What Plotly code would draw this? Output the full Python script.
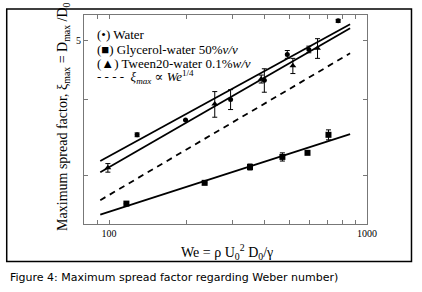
import plotly.graph_objects as go
import math

# ---- data ----
water_we = [128.5, 198, 296, 400, 491, 595, 773]
water_xi = [3.50, 3.70, 4.00, 4.30, 4.74, 4.83, 5.38]
water_err = [0.025, 0.0, 0.15, 0.19, 0.07, 0.06, 0.03]

tween_we = [99, 257, 389, 516, 643]
tween_xi = [3.09, 3.93, 4.32, 4.54, 4.85]
tween_err = [0.05, 0.19, 0.065, 0.13, 0.18]

gly_we = [116.8, 234.8, 352, 470, 588, 709]
gly_xi = [2.70, 2.92, 3.10, 3.22, 3.27, 3.50]
gly_err = [0.0, 0.0, 0.035, 0.05, 0.0, 0.066]

fit_we = [92.5, 860]
water_fit = [3.17, 5.31]
tween_fit = [3.04, 5.23]
power_fit = [2.735, 4.76]
gly_fit = [2.59, 3.51]

x_tickvals = [80, 90, 100, 200, 300, 400, 500, 600, 700, 800, 900, 1000]
x_ticktext = ["", "", "100", "", "", "", "", "", "", "", "", "1000"]
y_tickvals = [3, 4, 5]
y_ticktext = ["", "", "5"]

legend_labels = [
    "(•) Water",
    "(■) Glycerol-water 50%<i>v/v</i>",
    "(▲) Tween20-water 0.1%<i>w/v</i>",
    "- - - -  <i>ξ<sub>max</sub></i> ∝ <i>We</i><sup>1/4</sup>",
]

SERIF = "Liberation Serif, DejaVu Serif, serif"

fig = go.Figure()

line_style = dict(color="black", width=1.8)
fig.add_trace(go.Scatter(x=fit_we, y=water_fit, mode="lines", line=line_style))
fig.add_trace(go.Scatter(x=fit_we, y=tween_fit, mode="lines", line=line_style))
fig.add_trace(go.Scatter(x=fit_we, y=power_fit, mode="lines",
                         line=dict(color="black", width=1.8, dash="6px,5px")))
fig.add_trace(go.Scatter(x=fit_we, y=gly_fit, mode="lines", line=line_style))

err_style = dict(type="data", thickness=1, width=2.5, color="black")
fig.add_trace(go.Scatter(x=water_we, y=water_xi, mode="markers",
                         marker=dict(symbol="circle", size=5, color="black"),
                         error_y=dict(array=water_err, **err_style)))
fig.add_trace(go.Scatter(x=tween_we, y=tween_xi, mode="markers",
                         marker=dict(symbol="triangle-up", size=6, color="black"),
                         error_y=dict(array=tween_err, **err_style)))
fig.add_trace(go.Scatter(x=gly_we, y=gly_xi, mode="markers",
                         marker=dict(symbol="square", size=6, color="black"),
                         error_y=dict(array=gly_err, **err_style)))

axis_common = dict(
    type="log", showgrid=False, zeroline=False, automargin=False,
    showline=True, linecolor="#777", linewidth=1, mirror="ticks",
    ticks="inside", ticklen=4, tickcolor="#777",
    tickfont=dict(family=SERIF, size=10, color="black"),
)
fig.update_xaxes(range=[math.log10(80), 3], tickvals=x_tickvals, ticktext=x_ticktext, **axis_common)
fig.update_yaxes(range=[math.log10(2.5), math.log10(5.5)], tickvals=y_tickvals, ticktext=y_ticktext, **axis_common)

annotations = []
leg_y = [0.906, 0.835, 0.768, 0.702]
for txt, yy in zip(legend_labels, leg_y):
    annotations.append(dict(x=0.04, y=yy, xref="paper", yref="paper", text=txt,
                            showarrow=False, xanchor="left", yanchor="middle",
                            font=dict(family=SERIF, size=13, color="black")))
annotations.append(dict(x=-0.073, y=0.514, xref="paper", yref="paper",
                        text="Maximum spread factor, ξ<sub>max</sub> = D<sub>max</sub> /D<sub>0</sub>",
                        textangle=-90, showarrow=False, xanchor="center", yanchor="middle",
                        font=dict(family=SERIF, size=14, color="black")))
annotations.append(dict(x=0.507, y=-0.1325, xref="paper", yref="paper",
                        text="We = ρ U<sub>0</sub><sup>2</sup> D<sub>0</sub>/γ",
                        showarrow=False, xanchor="center", yanchor="middle",
                        font=dict(family=SERIF, size=14, color="black")))
annotations.append(dict(x=-0.2686, y=-0.2536, xref="paper", yref="paper",
                        text="Figure 4: Maximum spread factor regarding Weber number)",
                        showarrow=False, xanchor="left", yanchor="middle",
                        font=dict(family="DejaVu Sans", size=11, color="black")))

fig.update_layout(
    width=422, height=292,
    margin=dict(l=84, r=55, t=15, b=68, autoexpand=False),
    paper_bgcolor="white", plot_bgcolor="white",
    showlegend=False,
    hovermode=False,
    annotations=annotations,
    shapes=[dict(type="rect", xref="paper", yref="paper",
                 x0=-0.2731, x1=1.1572, y0=-0.1794, y1=1.0287,
                 line=dict(color="black", width=1.5))],
)

fig.write_html("out.html", config={"displayModeBar": False, "staticPlot": True},
               post_script="document.body.style.margin='0';")
